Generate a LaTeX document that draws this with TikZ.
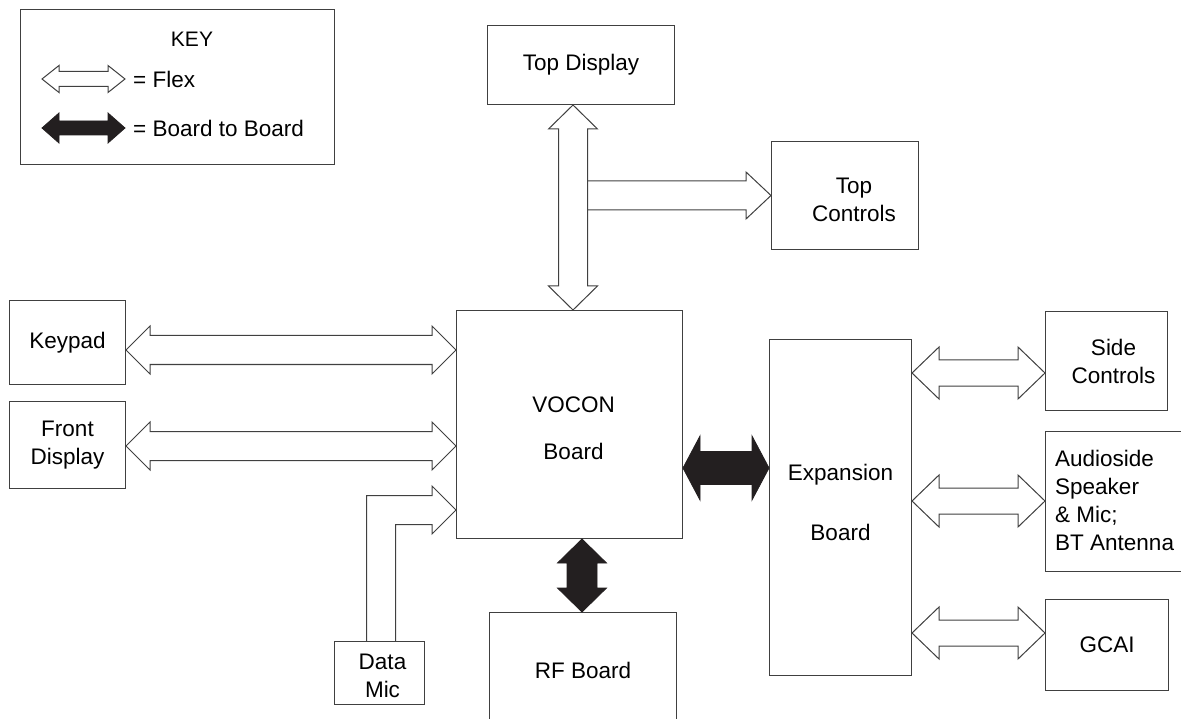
\documentclass[tikz,border=0pt]{standalone}
\usepackage{fontspec}
\setmainfont{Liberation Sans}
\usetikzlibrary{calc}
\definecolor{linec}{HTML}{404040}
\definecolor{bbc}{HTML}{231F20}
\tikzset{
  box/.style={draw=linec, line width=1pt, anchor=north west, inner sep=0pt, align=center,
    font=\fontsize{22.5}{28}\selectfont},
  lbl/.style={inner sep=0pt, align=center, font=\fontsize{22.5}{28}\selectfont},
  flex/.style={draw=linec, line width=1pt, fill=white, line join=miter},
  flexopen/.style={draw=linec, line width=1pt, line join=miter},
  btob/.style={draw=bbc, fill=bbc, line width=0.8pt, line join=miter}
}
% horizontal double arrow: style, left point, right point, y, shaft half, head half, head length
\newcommand{\dblH}[7]{%
  \draw[#1] let \p1=(#2), \p2=(#3), \p3=(0,#4) in
  (\x1,\y3) -- (\x1+#7pt,\y3-#6pt) -- (\x1+#7pt,\y3-#5pt) -- (\x2-#7pt,\y3-#5pt)
  -- (\x2-#7pt,\y3-#6pt) -- (\x2,\y3) -- (\x2-#7pt,\y3+#6pt) -- (\x2-#7pt,\y3+#5pt)
  -- (\x1+#7pt,\y3+#5pt) -- (\x1+#7pt,\y3+#6pt) -- cycle;}
% vertical double arrow: style, top point, bottom point, x, shaft half, head half, head length
\newcommand{\dblV}[7]{%
  \draw[#1] let \p1=(#2), \p2=(#3), \p3=(#4,0) in
  (\x3,\y1) -- (\x3+#6pt,\y1-#7pt) -- (\x3+#5pt,\y1-#7pt) -- (\x3+#5pt,\y2+#7pt)
  -- (\x3+#6pt,\y2+#7pt) -- (\x3,\y2) -- (\x3-#6pt,\y2+#7pt) -- (\x3-#5pt,\y2+#7pt)
  -- (\x3-#5pt,\y1-#7pt) -- (\x3-#6pt,\y1-#7pt) -- cycle;}
\begin{document}
\begin{tikzpicture}[x=1pt,y=-1pt]
\useasboundingbox (0,0) rectangle (1181,719);

% ---- key ----
\node[box, minimum width=314pt, minimum height=155pt] (key) at (20,9) {};
\node[lbl, font=\fontsize{21}{26}\selectfont] (keyt) at (192,39) {KEY};
\coordinate (kf1) at (42,79);
\coordinate (kf2) at (125,79);
\coordinate (kb1) at (42,128);
\coordinate (kb2) at (125,128);
\dblH{flex}{kf1}{kf2}{79}{7.5}{13.5}{17}
\dblH{btob}{kb1}{kb2}{128}{7}{15}{17}
\node[lbl, anchor=west] (kft) at (133,79) {= Flex};
\node[lbl, anchor=west] (kbt) at (133,128) {= Board to Board};

% ---- boxes ----
\node[box, minimum width=187pt, minimum height=79pt] (topdisp) at (487,25) {Top Display};
\node[box, minimum width=147pt, minimum height=108pt,
  label={[lbl, xshift=9pt, yshift=-4pt]center:Top\\Controls}] (topctrl) at (771,141) {};
\node[box, minimum width=116pt, minimum height=84pt] (keypad) at (9,300) {Keypad};
\node[box, minimum width=116pt, minimum height=87pt] (front) at (9,401) {Front\\Display};
\node[box, minimum width=90pt, minimum height=63pt,
  label={[lbl, xshift=3pt, yshift=-3pt]center:Data\\Mic}] (datamic) at (334,641) {};
\node[box, minimum width=226pt, minimum height=228pt,
  label={[lbl, font=\fontsize{22.5}{47}\selectfont, xshift=4pt, yshift=-4pt]center:VOCON\\Board}] (vocon) at (456,310) {};
\node[box, minimum width=187pt, minimum height=116pt] (rf) at (489,612) {RF Board};
\node[box, minimum width=142pt, minimum height=336pt,
  label={[lbl, font=\fontsize{22.5}{60}\selectfont, yshift=5pt]center:Expansion\\Board}] (exp) at (769,339) {};
\node[box, minimum width=122pt, minimum height=99pt,
  label={[lbl, xshift=7pt]center:Side\\Controls}] (side) at (1045,311) {};
\node[box, minimum width=150pt, minimum height=140pt,
  label={[lbl, align=left, anchor=west, xshift=10pt, yshift=1pt]west:Audioside\\Speaker\\\& Mic;\\BT Antenna}] (audio) at (1045,431) {};
\node[box, minimum width=123pt, minimum height=91pt] (gcai) at (1045,599) {GCAI};

% ---- flex connectors ----
\dblH{flex}{keypad.east}{vocon.west}{350}{14.5}{24}{24}
\dblH{flex}{front.east}{vocon.west}{446}{14.5}{24}{24}
\dblV{flex}{topdisp.south}{vocon.north}{573}{14.5}{24.5}{24}
\draw[flexopen] let \p1=(topctrl.west), \p2=(588,0) in
  (\x2,\y1+14.5pt) -- (\x1-25pt,\y1+14.5pt) -- (\x1-25pt,\y1+23.5pt) -- (\x1,\y1)
  -- (\x1-25pt,\y1-23.5pt) -- (\x1-25pt,\y1-14.5pt) -- (\x2,\y1-14.5pt);
\draw[flexopen] let \p1=(datamic.north), \p2=(vocon.west), \p3=(0,510) in
  (\x1-13pt,\y1) -- (\x1-13pt,\y3+14.5pt) -- (\x2-24pt,\y3+14.5pt) -- (\x2-24pt,\y3+24pt)
  -- (\x2,\y3) -- (\x2-24pt,\y3-24pt) -- (\x2-24pt,\y3-14.5pt) -- (\x1+16pt,\y3-14.5pt)
  -- (\x1+16pt,\y1);
\dblH{flex}{exp.east}{side.west}{373}{13}{26}{27}
\dblH{flex}{exp.east}{audio.west}{501}{13}{26}{27}
\dblH{flex}{exp.east}{gcai.west}{633}{13}{26}{27}

% ---- board to board connectors ----
\dblH{btob}{vocon.east}{exp.west}{468}{16.5}{32}{17}
\dblV{btob}{vocon.south}{rf.north}{582}{15}{24.5}{24}
\end{tikzpicture}
\end{document}
